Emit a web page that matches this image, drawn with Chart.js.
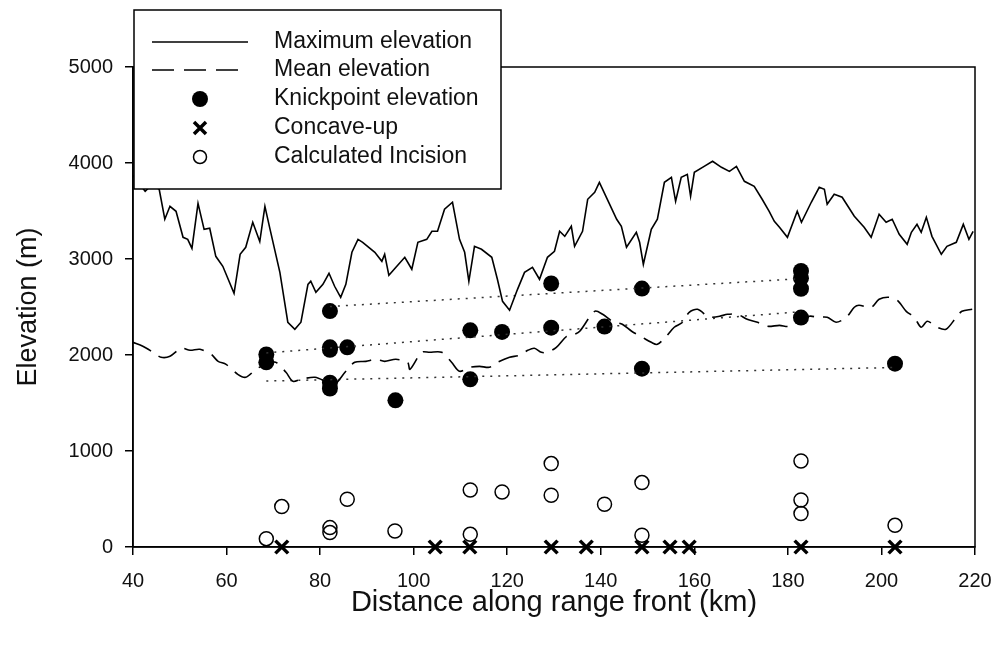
<!DOCTYPE html>
<html>
<head>
<meta charset="utf-8">
<script src="https://cdn.jsdelivr.net/npm/chart.js@4.4.1/dist/chart.umd.min.js"></script>
<style>
  html, body { margin: 0; padding: 0; background: #fff; }
  #wrap { width: 998px; height: 647px; }
</style>
</head>
<body>
<div id="wrap"><canvas id="c" width="998" height="647"></canvas></div>
<script>
// ---- data ----
const maxElevKm = [40, 42.6, 44.1, 45.6, 46.8, 47.9, 49.2, 50.7, 51.7, 52.6, 53.9, 55.2, 56.4, 57.7, 59.2, 61.6, 62.9, 64.1, 65.6, 67.1, 68.2, 69.3, 71.4, 73.1, 74.6, 75.9, 77.4, 78.0, 79.1, 80.6, 81.9, 83.1, 84.4, 85.5, 86.8, 88.1, 89.1, 91.7, 93.2, 93.8, 94.7, 96.4, 98.1, 99.6, 100.9, 102.8, 103.9, 105.1, 106.6, 108.3, 109.8, 110.9, 111.8, 113.0, 114.5, 116.7, 117.9, 119.0, 120.5, 122.2, 123.7, 125.4, 126.9, 128.6, 130.1, 131.2, 132.3, 133.7, 134.4, 136.1, 137.2, 138.7, 139.7, 141.4, 143.4, 144.4, 145.5, 147.6, 148.3, 149.1, 150.8, 152.1, 153.6, 155.1, 156.0, 157.2, 158.5, 159.2, 160.0, 162.1, 163.9, 165.8, 167.5, 169.0, 170.7, 172.8, 174.5, 176.0, 177.1, 178.2, 179.9, 182.0, 182.9, 185.0, 186.7, 187.8, 188.4, 189.9, 191.6, 194.2, 196.3, 197.8, 199.5, 201.0, 202.3, 203.8, 205.5, 206.4, 207.6, 208.5, 209.6, 210.8, 212.8, 214.0, 216.0, 217.5, 218.7, 219.6];
const maxElevM = [3870, 3705, 3778, 3726, 3414, 3549, 3497, 3226, 3205, 3111, 3580, 3309, 3320, 3028, 2924, 2643, 3049, 3122, 3382, 3182, 3549, 3309, 2861, 2341, 2268, 2341, 2736, 2768, 2653, 2736, 2851, 2716, 2601, 2736, 3070, 3205, 3174, 3070, 2976, 3049, 2830, 2924, 3018, 2893, 3174, 3205, 3289, 3289, 3518, 3591, 3205, 3070, 2768, 3132, 3101, 3018, 2789, 2559, 2466, 2684, 2861, 2914, 2789, 3018, 3080, 3289, 3236, 3341, 3132, 3289, 3622, 3695, 3799, 3622, 3414, 3341, 3122, 3278, 3174, 2945, 3309, 3414, 3799, 3851, 3601, 3851, 3882, 3653, 3903, 3965, 4018, 3955, 3913, 3965, 3809, 3757, 3622, 3497, 3393, 3330, 3226, 3497, 3382, 3591, 3747, 3726, 3570, 3674, 3643, 3445, 3330, 3226, 3466, 3382, 3414, 3257, 3153, 3278, 3361, 3278, 3434, 3236, 3049, 3132, 3174, 3361, 3205, 3289];

const meanElevKm = [40, 42.1, 44.3, 46.0, 47.9, 50.3, 52.2, 54.3, 56.7, 58.2, 59.9, 62.4, 64.1, 66.3, 68.4, 70.5, 72.7, 74.2, 75.9, 78.9, 81.0, 82.7, 85.5, 87.4, 89.8, 91.9, 93.8, 96.2, 98.7, 99.2, 101.7, 103.4, 106.0, 108.1, 109.8, 112.0, 114.1, 116.2, 117.9, 120.5, 122.6, 124.4, 125.8, 127.3, 128.6, 130.5, 132.7, 134.4, 135.5, 138.7, 140.4, 142.5, 144.6, 146.6, 148.9, 150.8, 152.1, 154.0, 155.7, 157.5, 158.9, 160.7, 162.8, 163.6, 165.4, 167.1, 169.2, 171.3, 173.5, 175.6, 178.2, 180.3, 184.6, 186.3, 188.4, 190.3, 192.5, 194.2, 195.2, 197.8, 199.5, 201.6, 203.4, 205.3, 207.0, 208.5, 209.8, 211.9, 213.8, 216.0, 217.2, 219.4];
const meanElevM = [2132, 2091, 2028, 1976, 1986, 2070, 2049, 2059, 2007, 1934, 1903, 1799, 1768, 1851, 1903, 1924, 1820, 1726, 1747, 1768, 1726, 1674, 1830, 1924, 1934, 1955, 1934, 1955, 1924, 1851, 2028, 2028, 2028, 1924, 1830, 1872, 1882, 1872, 1924, 1976, 1997, 2049, 2070, 2028, 2028, 2080, 2195, 2216, 2247, 2455, 2424, 2351, 2320, 2247, 2184, 2132, 2111, 2195, 2289, 2341, 2445, 2476, 2403, 2393, 2403, 2424, 2424, 2372, 2341, 2299, 2309, 2299, 2403, 2393, 2393, 2341, 2393, 2497, 2518, 2497, 2580, 2601, 2570, 2455, 2393, 2289, 2351, 2289, 2268, 2393, 2455, 2476];

const knickKm = [68.5, 68.5, 82.1, 82.1, 82.1, 82.1, 82.1, 85.8, 96.1, 112.1, 112.1, 118.9, 129.4, 129.4, 140.8, 148.8, 148.8, 182.8, 182.8, 182.8, 182.8, 202.9];
const knickM = [2005, 1924, 2458, 2080, 2055, 1712, 1650, 2080, 1528, 2257, 1747, 2240, 2745, 2285, 2296, 2692, 1858, 2875, 2800, 2690, 2390, 1910];

const concaveKm = [71.8, 104.6, 112.0, 129.4, 136.9, 148.8, 154.8, 158.9, 182.8, 202.9];
const concaveM = [0, 0, 0, 0, 0, 0, 0, 0, 0, 0];

const incisionKm = [68.5, 71.8, 82.1, 82.1, 85.8, 96.0, 112.1, 112.1, 118.9, 129.4, 129.4, 140.8, 148.8, 148.8, 182.8, 182.8, 182.8, 202.9];
const incisionM = [87, 421, 202, 150, 497, 167, 594, 132, 573, 869, 539, 445, 671, 122, 896, 490, 348, 226];

// dotted trend lines between knickpoint groups
const trendUpperKm = [82.1, 182.8];
const trendUpperM = [2505, 2795];
const trendMidKm = [68.5, 182.8];
const trendMidM = [2022, 2451];
const trendLowKm = [68.5, 202.9];
const trendLowM = [1729, 1870];

const xTicks = [40, 60, 80, 100, 120, 140, 160, 180, 200, 220];
const yTicks = [0, 1000, 2000, 3000, 4000, 5000];

const legendLabels = ['Maximum elevation', 'Mean elevation', 'Knickpoint elevation', 'Concave-up', 'Calculated Incision'];

const pts = (xs, ys) => xs.map((x, i) => ({ x, y: ys[i] }));

const FONT = '"Liberation Sans", Arial, sans-serif';

// box around the plot + legend drawn over it
const framePlugin = {
  id: 'frame',
  beforeDatasetsDraw(chart) {
    const { ctx, chartArea: a } = chart;
    ctx.save();
    ctx.strokeStyle = '#000';
    ctx.lineWidth = 1.5;
    ctx.strokeRect(a.left, a.top, a.right - a.left, a.bottom - a.top);
    ctx.restore();
  },
  afterDraw(chart) {
    const { ctx } = chart;
    const bx = 134, by = 10, bw = 367, bh = 179;
    ctx.save();
    ctx.fillStyle = '#fff';
    ctx.fillRect(bx, by, bw, bh);
    ctx.strokeStyle = '#000';
    ctx.lineWidth = 1.5;
    ctx.strokeRect(bx, by, bw, bh);

    const rowY = [42, 70, 99, 128, 157];
    const mx = 200;
    ctx.lineWidth = 1.5;
    // solid line
    ctx.beginPath(); ctx.moveTo(152, rowY[0]); ctx.lineTo(248, rowY[0]); ctx.stroke();
    // dashed line
    ctx.setLineDash([22, 10]);
    ctx.beginPath(); ctx.moveTo(152, rowY[1]); ctx.lineTo(248, rowY[1]); ctx.stroke();
    ctx.setLineDash([]);
    // filled circle
    ctx.fillStyle = '#000';
    ctx.beginPath(); ctx.arc(mx, rowY[2], 8, 0, Math.PI * 2); ctx.fill();
    // cross
    ctx.lineWidth = 3.5;
    ctx.beginPath();
    ctx.moveTo(mx - 6, rowY[3] - 6); ctx.lineTo(mx + 6, rowY[3] + 6);
    ctx.moveTo(mx + 6, rowY[3] - 6); ctx.lineTo(mx - 6, rowY[3] + 6);
    ctx.stroke();
    // open circle
    ctx.lineWidth = 1.5;
    ctx.beginPath(); ctx.arc(mx, rowY[4], 6.5, 0, Math.PI * 2); ctx.stroke();

    ctx.fillStyle = '#111';
    ctx.font = '23px ' + FONT;
    ctx.textBaseline = 'middle';
    ctx.textAlign = 'left';
    legendLabels.forEach((t, i) => ctx.fillText(t, 274, rowY[i]));
    ctx.restore();
  }
};

new Chart(document.getElementById('c'), {
  type: 'scatter',
  data: {
    datasets: [
      { label: 'Maximum elevation', data: pts(maxElevKm, maxElevM), showLine: true,
        borderColor: '#000', borderWidth: 1.6, pointRadius: 0, tension: 0 },
      { label: 'Mean elevation', data: pts(meanElevKm, meanElevM), showLine: true,
        borderColor: '#000', borderWidth: 1.6, borderDash: [20, 9], pointRadius: 0, tension: 0.3 },
      { label: 'trend upper', data: pts(trendUpperKm, trendUpperM), showLine: true,
        borderColor: '#333', borderWidth: 1.5, borderDash: [2, 6], pointRadius: 0 },
      { label: 'trend mid', data: pts(trendMidKm, trendMidM), showLine: true,
        borderColor: '#333', borderWidth: 1.5, borderDash: [2, 6], pointRadius: 0 },
      { label: 'trend low', data: pts(trendLowKm, trendLowM), showLine: true,
        borderColor: '#333', borderWidth: 1.5, borderDash: [2, 6], pointRadius: 0 },
      { label: 'Knickpoint elevation', data: pts(knickKm, knickM),
        pointStyle: 'circle', pointRadius: 8, backgroundColor: '#000', borderColor: '#000', borderWidth: 0 },
      { label: 'Concave-up', data: pts(concaveKm, concaveM), clip: false,
        pointStyle: 'crossRot', pointRadius: 9, borderColor: '#000', borderWidth: 3.5 },
      { label: 'Calculated Incision', data: pts(incisionKm, incisionM), clip: false,
        pointStyle: 'circle', pointRadius: 7, backgroundColor: 'rgba(255,255,255,0)', borderColor: '#000', borderWidth: 1.5 }
    ]
  },
  options: {
    responsive: false,
    animation: false,
    layout: { padding: { top: 67, right: 23, left: 0, bottom: 0 } },
    plugins: { legend: { display: false }, tooltip: { enabled: false } },
    scales: {
      x: {
        type: 'linear', min: 40, max: 220,
        afterBuildTicks: (s) => { s.ticks = xTicks.map(v => ({ value: v })); },
        afterFit: (s) => { s.height = 100; s.paddingLeft = 0; s.paddingRight = 0; },
        grid: { drawOnChartArea: false, drawTicks: true, tickLength: 8, color: '#000', lineWidth: 1.5 },
        border: { display: true, color: '#000', width: 1.5 },
        ticks: { color: '#111', font: { family: FONT, size: 20 }, padding: 14, maxRotation: 0,
          callback: (v) => String(v) },
        title: { display: true, text: 'Distance along range front (km)', color: '#111',
          font: { family: FONT, size: 29 }, padding: { top: 0, bottom: 27 } }
      },
      y: {
        type: 'linear', min: 0, max: 5000,
        afterBuildTicks: (s) => { s.ticks = yTicks.map(v => ({ value: v })); },
        afterFit: (s) => { s.width = 133; s.paddingTop = 0; s.paddingBottom = 0; },
        grid: { drawOnChartArea: false, drawTicks: true, tickLength: 8, color: '#000', lineWidth: 1.5 },
        border: { display: true, color: '#000', width: 1.5 },
        ticks: { color: '#111', font: { family: FONT, size: 20 }, padding: 12,
          callback: (v) => String(v) },
        title: { display: true, text: 'Elevation (m)', color: '#111',
          font: { family: FONT, size: 27 }, padding: { top: 12, bottom: 0 } }
      }
    }
  },
  plugins: [framePlugin]
});
</script>
</body>
</html>
